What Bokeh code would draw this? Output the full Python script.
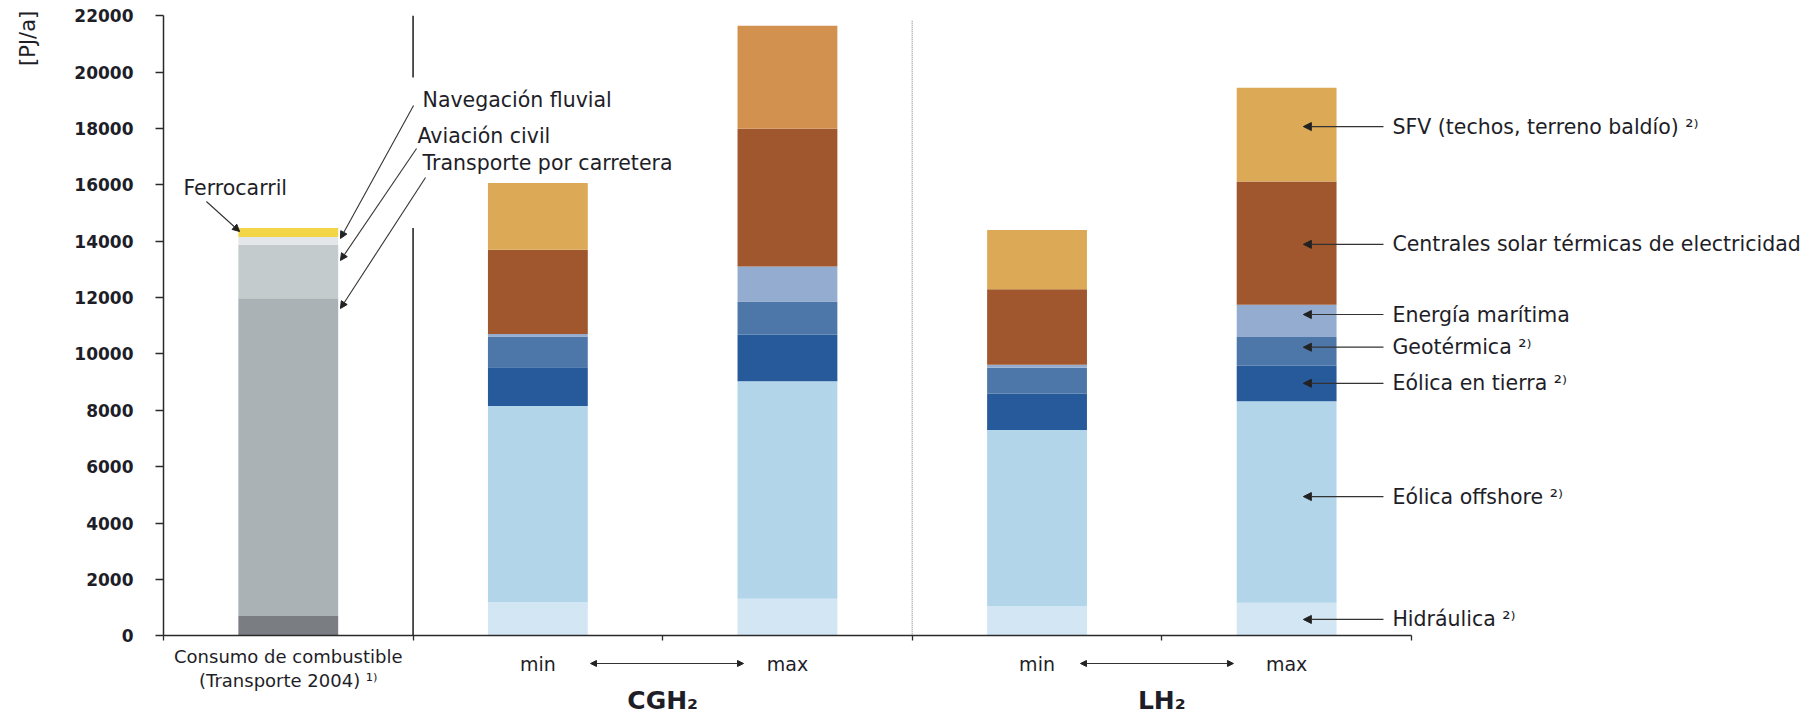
import numpy as np
from bokeh.plotting import figure
from bokeh.models import (Range1d, FixedTicker, Label, LabelSet, Arrow, NormalHead,
                          ColumnDataSource)
from bokeh.core.properties import value
from bokeh.embed import file_html
from bokeh.resources import INLINE

# ---------------- data ----------------
bar_x = [0.5, 1.5, 2.5, 3.5, 4.5]          # slots: consumo, CGH2 min, CGH2 max, LH2 min, LH2 max
bar_width = 0.4

fuel_series = ["Otros", "Transporte por carretera", "Aviación civil", "Navegación fluvial", "Ferrocarril"]
fuel_values = [700, 11280, 1900, 270, 320]
fuel_colors = ["#7A7D81", "#ABB2B5", "#C3CBCD", "#E3E7E9", "#F3D548"]

renew_series = ["Hidráulica", "Eólica offshore", "Eólica en tierra", "Geotérmica",
                "Energía marítima", "Centrales solar térmicas de electricidad",
                "SFV (techos, terreno baldío)"]
hidraulica      = [1200, 1310, 1050, 1170]
eolica_offshore = [6950, 7720, 6250, 7150]
eolica_tierra   = [1380, 1650, 1290, 1260]
geotermica      = [1090, 1180, 920, 1020]
maritima        = [90, 1240, 110, 1150]
solar_termica   = [2990, 4890, 2680, 4370]
sfv             = [2370, 3660, 2100, 3330]
renew_values = [hidraulica, eolica_offshore, eolica_tierra, geotermica, maritima, solar_termica, sfv]
renew_colors = [["#D2E6F4"] * 4, ["#B3D5EA"] * 4, ["#275A9B"] * 4, ["#4E77A9"] * 4,
                ["#93ACD0"] * 4, ["#A0572E"] * 4, ["#DCAA56", "#D39150", "#DCAA56", "#DCAA56"]]

y_ticks = list(range(0, 22001, 2000))
slot_edges = [0, 1, 2, 3, 4, 5]

# right-hand annotation labels (arrow heights in PJ/a)
right_labels = ["SFV (techos, terreno baldío)  ²⁾", "Centrales solar térmicas de electricidad",
                "Energía marítima", "Geotérmica ²⁾", "Eólica en tierra ²⁾",
                "Eólica offshore ²⁾", "Hidráulica ²⁾"]
right_label_y = [18070, 13890, 11400, 10240, 8960, 4940, 580]

# left-hand annotation labels
left_labels = ["Ferrocarril", "Navegación fluvial", "Aviación civil", "Transporte por carretera"]
left_label_x = [0.080, 1.038, 1.018, 1.038]
left_label_y = [15890, 19012, 17735, 16777]
left_arrow_x0 = [0.172, 1.002, 1.014, 1.050]
left_arrow_y0 = [15411, 18818, 17293, 16264]
left_arrow_x1 = [0.305, 0.709, 0.709, 0.709]
left_arrow_y1 = [14346, 14098, 13318, 11614]

FONT = "DejaVu Sans"
TXT = "#1E1E28"

# ---------------- figure ----------------
p = figure(width=1817, height=716, x_range=Range1d(-0.653, 6.627), y_range=Range1d(-2864, 22543),
           output_backend="svg", toolbar_location=None,
           min_border_left=0, min_border_right=0, min_border_top=0, min_border_bottom=0)
p.xgrid.visible = False
p.ygrid.visible = False
p.outline_line_color = None
p.background_fill_color = "white"
p.border_fill_color = "white"

# fuel consumption bar
fb = np.concatenate([[0], np.cumsum(fuel_values)[:-1]])
ft = np.cumsum(fuel_values)
src_f = ColumnDataSource(dict(x=[bar_x[0]] * len(fuel_values), bottom=fb, top=ft,
                              color=fuel_colors, name=fuel_series))
p.vbar(x="x", bottom="bottom", top="top", width=bar_width, fill_color="color",
       line_color=None, source=src_f)

# renewable bars
bottom = np.zeros(4)
for name, vals, cols in zip(renew_series, renew_values, renew_colors):
    top = bottom + np.array(vals)
    src = ColumnDataSource(dict(x=bar_x[1:], bottom=bottom.copy(), top=top, color=cols,
                                name=[name] * 4))
    p.vbar(x="x", bottom="bottom", top="top", width=bar_width, fill_color="color",
           line_color=None, source=src)
    bottom = top

# dividers
p.segment(x0=[1, 1], y0=[0, 19810], x1=[1, 1], y1=[14470, 22000],
          line_color="#2A2A2A", line_width=1.6)
p.segment(x0=[3], y0=[0], x1=[3], y1=[21830], line_color="#A8A8A8", line_width=1.5,
          line_dash="1 1")

# axes
ya = p.yaxis[0]
ya.fixed_location = 0
ya.ticker = FixedTicker(ticks=y_ticks)
ya.bounds = (0, 22000)
ya.major_tick_out = 8
ya.major_tick_in = 0
ya.minor_tick_line_color = None
ya.major_label_standoff = 22
ya.major_label_text_font = FONT
ya.major_label_text_font_style = "bold"
ya.major_label_text_font_size = "17px"
ya.major_label_text_color = TXT
ya.axis_line_color = "#2A2A2A"
ya.axis_line_width = 1.5
ya.major_tick_line_color = "#2A2A2A"
ya.major_tick_line_width = 1.3

xa = p.xaxis[0]
xa.fixed_location = 0
xa.ticker = FixedTicker(ticks=slot_edges)
xa.bounds = (0, 5)
xa.major_label_overrides = {e: "" for e in slot_edges}
xa.major_tick_out = 5
xa.major_tick_in = 0
xa.minor_tick_line_color = None
xa.axis_line_color = "#2A2A2A"
xa.axis_line_width = 1.5
xa.major_tick_line_color = "#2A2A2A"
xa.major_tick_line_width = 1.3

# y-axis title
p.add_layout(Label(x=-0.541, y=21200, text="[PJ/a]", angle=np.pi / 2, text_align="center",
                   text_baseline="middle", text_font=FONT, text_font_size="21px",
                   text_color=TXT))

# right annotations
n_r = len(right_labels)
src_r = ColumnDataSource(dict(x0=[4.888] * n_r, x1=[4.567] * n_r, y=right_label_y,
                              tx=[4.924] * n_r, text=right_labels))
p.add_layout(Arrow(end=NormalHead(size=8, fill_color="#222222", line_color="#222222"),
                   x_start="x0", y_start="y", x_end="x1", y_end="y", source=src_r,
                   line_color="#333333", line_width=1.2))
p.add_layout(LabelSet(x="tx", y="y", text="text", source=src_r, text_align="left",
                      text_baseline="middle", text_font=value(FONT), text_font_size=value("20.5px"),
                      text_color=TXT))

# left annotations
src_l = ColumnDataSource(dict(x0=left_arrow_x0, y0=left_arrow_y0, x1=left_arrow_x1,
                              y1=left_arrow_y1, tx=left_label_x, ty=left_label_y,
                              text=left_labels))
p.add_layout(Arrow(end=NormalHead(size=7, fill_color="#222222", line_color="#222222"),
                   x_start="x0", y_start="y0", x_end="x1", y_end="y1", source=src_l,
                   line_color="#333333", line_width=1.1))
p.add_layout(LabelSet(x="tx", y="ty", text="text", source=src_l, text_align="left",
                      text_baseline="middle", text_font=value(FONT), text_font_size=value("20.5px"),
                      text_color=TXT))

# category labels below axis
p.add_layout(Label(x=bar_x[0], y=-735, text="Consumo de combustible", text_align="center",
                   text_baseline="middle", text_font=FONT, text_font_size="18px",
                   text_color=TXT))
p.add_layout(Label(x=bar_x[0], y=-1586, text="(Transporte 2004) ¹⁾", text_align="center",
                   text_baseline="middle", text_font=FONT, text_font_size="18px",
                   text_color=TXT))
for xi, t in zip(bar_x[1:], ["min", "max", "min", "max"]):
    p.add_layout(Label(x=xi, y=-1018, text=t, text_align="center", text_baseline="middle",
                       text_font=FONT, text_font_size="19px", text_color=TXT))
for xs, xe in [(1.711, 2.324), (3.674, 4.287)]:
    p.add_layout(Arrow(start=NormalHead(size=6, fill_color="#222222", line_color="#222222"),
                       end=NormalHead(size=6, fill_color="#222222", line_color="#222222"),
                       x_start=xs, y_start=-983, x_end=xe, y_end=-983,
                       line_color="#333333", line_width=1.1))
for xc, t in [(2.0, "CGH₂"), (4.0, "LH₂")]:
    p.add_layout(Label(x=xc, y=-2300, text=t, text_align="center", text_baseline="middle",
                       text_font=FONT, text_font_size="25px", text_font_style="bold",
                       text_color=TXT))

open("out.html", "w").write(file_html(p, INLINE))
